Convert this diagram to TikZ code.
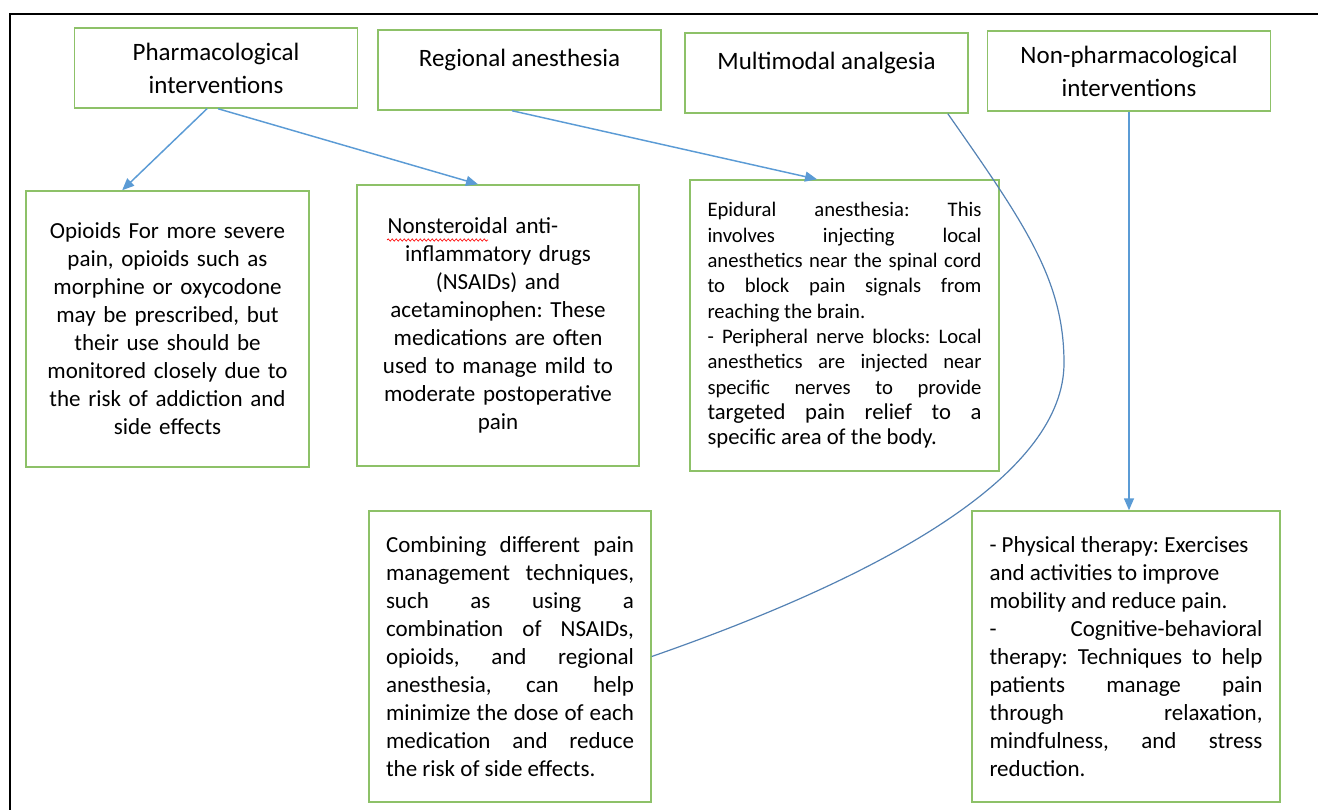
\documentclass[tikz,border=0pt]{standalone}
\usepackage{fontspec}
\setmainfont{Carlito}
\usepackage{xcolor}
\usepackage{tikz}
\usetikzlibrary{arrows.meta,decorations.pathmorphing}

\definecolor{boxgreen}{RGB}{141,193,104}
\definecolor{arrowblue}{RGB}{91,155,213}
\definecolor{curveblue}{RGB}{84,130,180}

\frenchspacing
\hbadness=10000
\hyphenpenalty=10000
\exhyphenpenalty=10000

\begin{document}
\begin{tikzpicture}[x=0.75pt,y=-0.75pt,
    myhead/.style={draw=boxgreen,line width=1.1pt,minimum width=212pt,minimum height=60pt,align=center,font=\fontsize{18.75}{24.75}\selectfont},
    mybox/.style={draw=boxgreen,line width=1.1pt,font=\fontsize{17.25}{21}\selectfont},
    myarrow/.style={draw=arrowblue,line width=1.1pt,-{Triangle[length=9pt,width=7.5pt]}}]

        \useasboundingbox (0,0) rectangle (1318,810);

        %frame
        \draw[line width=2pt] (10,810) -- (10,14) -- (1318,14);

        %header boxes
        \node[myhead] (pharm) at (216,68) {Pharmacological\\interventions};
        \node[myhead] (regional) at (519.5,70) {Regional anesthesia\\[-6pt]\mbox{}};
        \node[myhead] (multimodal) at (826.5,73) {Multimodal analgesia\\[-6pt]\mbox{}};
        \node[myhead] (nonpharm) at (1129,71) {Non-pharmacological\\interventions};

        %text boxes
        \node[mybox,minimum width=212.25pt,minimum height=207pt,text width=200pt,align=center] (opioids) at (167.5,329)
            {Opioids For more severe\\pain, opioids such as\\morphine or oxycodone\\may be prescribed, but\\their use should be\\monitored closely due to\\the risk of addiction and\\side effects};
        \node[mybox,minimum width=211.5pt,minimum height=210.75pt,text width=200pt,align=center] (nsaids) at (498,325.5)
            {Nonsteroidal anti-\hspace*{37.5pt}\mbox{}\\inflammatory drugs\\(NSAIDs) and\\acetaminophen: These\\medications are often\\used to manage mild to\\moderate postoperative\\pain};
        \node[mybox,minimum width=231.75pt,minimum height=218.25pt,text width=205.5pt,align=justify,font=\fontsize{15.5}{19}\selectfont] (epidural) at (844.5,325.5)
            {Epidural anesthesia: This\linebreak involves injecting local\linebreak anesthetics near the spinal cord\linebreak to block pain signals from\linebreak reaching the brain.\\- Peripheral nerve blocks: Local\linebreak anesthetics are injected near\linebreak specific nerves to provide\linebreak {\fontsize{17}{19}\selectfont targeted pain relief to a\linebreak specific area of the body.}};
        \node[mybox,minimum width=211.5pt,minimum height=218.25pt,text width=186pt,align=justify] (combining) at (510,656.5)
            {Combining different pain\linebreak management techniques,\linebreak such as using a\linebreak combination of NSAIDs,\linebreak opioids, and regional\linebreak anesthesia, can help\linebreak minimize the dose of each\linebreak medication and reduce\linebreak the risk of side effects.};
        \node[mybox,minimum width=231pt,minimum height=218.25pt,text width=204.75pt,align=justify] (pt) at (1126,656.5)
            {- Physical therapy: Exercises\\and activities to improve\\mobility and reduce pain.\\- Cognitive-behavioral\linebreak therapy: Techniques to help\linebreak patients manage pain\linebreak through relaxation,\linebreak mindfulness, and stress\linebreak reduction.};

        %spelling squiggle
        \draw[red,line width=0.5pt,decorate,decoration={snake,amplitude=0.8pt,segment length=3pt}] (387,240) -- (488,240);

        %arrows
        \draw[myarrow] ([xshift=-6.75pt]pharm.south) -- ([xshift=-34pt]opioids.north);
        \draw[myarrow] ([xshift=1.5pt]pharm.south) -- ([xshift=-15pt]nsaids.north);
        \draw[myarrow] ([xshift=-5.6pt]regional.south) -- ([xshift=-20.6pt]epidural.north);
        \draw[myarrow] (nonpharm.south) -- (nonpharm.south |- pt.north);

        %curved link
        \draw[curveblue,line width=0.9pt] ([xshift=91pt]multimodal.south) .. controls (1025,224) and (1064,280) .. (1064,363)
            .. controls (1064,470) and (900,570) .. (combining.east);
\end{tikzpicture}
\end{document}
